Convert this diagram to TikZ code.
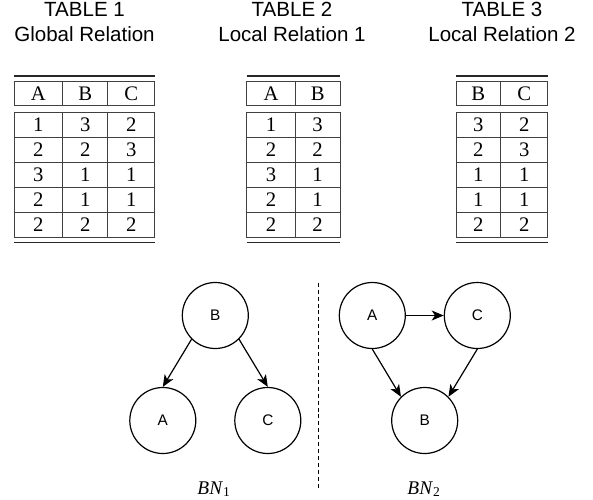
\documentclass[tikz,border=0pt]{standalone}
\usepackage{fontspec}
\setmainfont{Liberation Serif}
\setsansfont{Liberation Sans}
\usetikzlibrary{arrows.meta}
\begin{document}
\begin{tikzpicture}[x=0.75pt,y=-0.75pt,
  title/.style={font=\sffamily\fontsize{15.4}{19}\selectfont, anchor=base, inner sep=0},
  cell/.style={font=\fontsize{15.5}{18}\selectfont, inner sep=0, anchor=base},
  rule/.style={line width=0.8pt, draw=black!85},
  grid/.style={line width=0.6pt, draw=black!75},
  bn/.style={circle, draw, line width=0.9pt, minimum size=49.5pt, inner sep=0, font=\sffamily\fontsize{11.5}{13}\selectfont},
  arr/.style={-{Stealth[length=9pt,width=7.5pt,inset=2.5pt]}, line width=0.9pt},
  bnlabel/.style={font=\fontsize{14.5}{17}\selectfont, anchor=base, inner sep=0}]
\useasboundingbox (0,0) rectangle (593,500);

% titles
\node[title] (t1a) at (84.5,16) {TABLE 1};
\node[title] (t1b) at (84.5,41.5) {Global Relation};
\node[title] (t2a) at (292,16) {TABLE 2};
\node[title] (t2b) at (292,41.5) {Local Relation 1};
\node[title] (t3a) at (502,16) {TABLE 3};
\node[title] (t3b) at (502,41.5) {Local Relation 2};

% table 1
\draw[rule] (14,76) -- (154.7,76);
\draw[grid] (14,81) rectangle (154.7,105.5);
\draw[grid] (14,112) rectangle (154.7,237);
\foreach \y in {137,162,187,212} \draw[grid] (14,\y) -- (154.7,\y);
\foreach \x in {62.7,107.7} {\draw[grid] (\x,81) -- (\x,105.5); \draw[grid] (\x,112) -- (\x,237);}
\draw[rule] (14,242.5) -- (154.7,242.5);
\node[cell] (t1h1) at (38.35,100) {A};
\node[cell] (t1h2) at (85.2,100) {B};
\node[cell] (t1h3) at (131.2,100) {C};
\foreach \a/\b/\c [count=\i] in {1/3/2,2/2/3,3/1/1,2/1/1,2/2/2} {
  \node[cell] (t1r\i c1) at (38.35,{106+25*\i}) {\a};
  \node[cell] (t1r\i c2) at (85.2,{106+25*\i}) {\b};
  \node[cell] (t1r\i c3) at (131.2,{106+25*\i}) {\c};
}

% table 2
\draw[rule] (246.7,76) -- (340,76);
\draw[grid] (246.7,81) rectangle (340,105.5);
\draw[grid] (246.7,112) rectangle (340,237);
\foreach \y in {137,162,187,212} \draw[grid] (246.7,\y) -- (340,\y);
\draw[grid] (295.3,81) -- (295.3,105.5);
\draw[grid] (295.3,112) -- (295.3,237);
\draw[rule] (246.7,242.5) -- (340,242.5);
\node[cell] (t2h1) at (271,100) {A};
\node[cell] (t2h2) at (317.65,100) {B};
\foreach \a/\b [count=\i] in {1/3,2/2,3/1,2/1,2/2} {
  \node[cell] (t2r\i c1) at (271,{106+25*\i}) {\a};
  \node[cell] (t2r\i c2) at (317.65,{106+25*\i}) {\b};
}

% table 3
\draw[rule] (456,76) -- (547.7,76);
\draw[grid] (456,81) rectangle (547.7,105.5);
\draw[grid] (456,112) rectangle (547.7,237);
\foreach \y in {137,162,187,212} \draw[grid] (456,\y) -- (547.7,\y);
\draw[grid] (500.7,81) -- (500.7,105.5);
\draw[grid] (500.7,112) -- (500.7,237);
\draw[rule] (456,242.5) -- (547.7,242.5);
\node[cell] (t3h1) at (478.35,100) {B};
\node[cell] (t3h2) at (524.2,100) {C};
\foreach \a/\b [count=\i] in {3/2,2/3,1/1,1/1,2/2} {
  \node[cell] (t3r\i c1) at (478.35,{106+25*\i}) {\a};
  \node[cell] (t3r\i c2) at (524.2,{106+25*\i}) {\b};
}

% BN1
\node[bn] (b1B) at (215.3,315.5) {B};
\node[bn] (b1A) at (162.8,420.5) {A};
\node[bn] (b1C) at (267.8,420.5) {C};
\draw[arr] (b1B.south west) -- (b1A.north);
\draw[arr] (b1B.south east) -- (b1C.north);
\node[bnlabel] (bn1) at (214,494) {\textit{BN}\textsubscript{1}};

% separator
\coordinate (dtop) at (318.3,282.7);
\coordinate (dbot) at (318.3,490);
\draw[line width=0.8pt, dash pattern=on 3pt off 2.2pt] (dtop) -- (dbot);

% BN2
\node[bn] (b2A) at (372.3,315.5) {A};
\node[bn] (b2C) at (477.3,315.5) {C};
\node[bn] (b2B) at (424.7,420.5) {B};
\draw[arr] (b2A) -- (b2C);
\draw[arr] (b2A.south) -- (b2B.north west);
\draw[arr] (b2C.south) -- (b2B.north east);
\node[bnlabel] (bn2) at (424,494) {\textit{BN}\textsubscript{2}};
\end{tikzpicture}
\end{document}
